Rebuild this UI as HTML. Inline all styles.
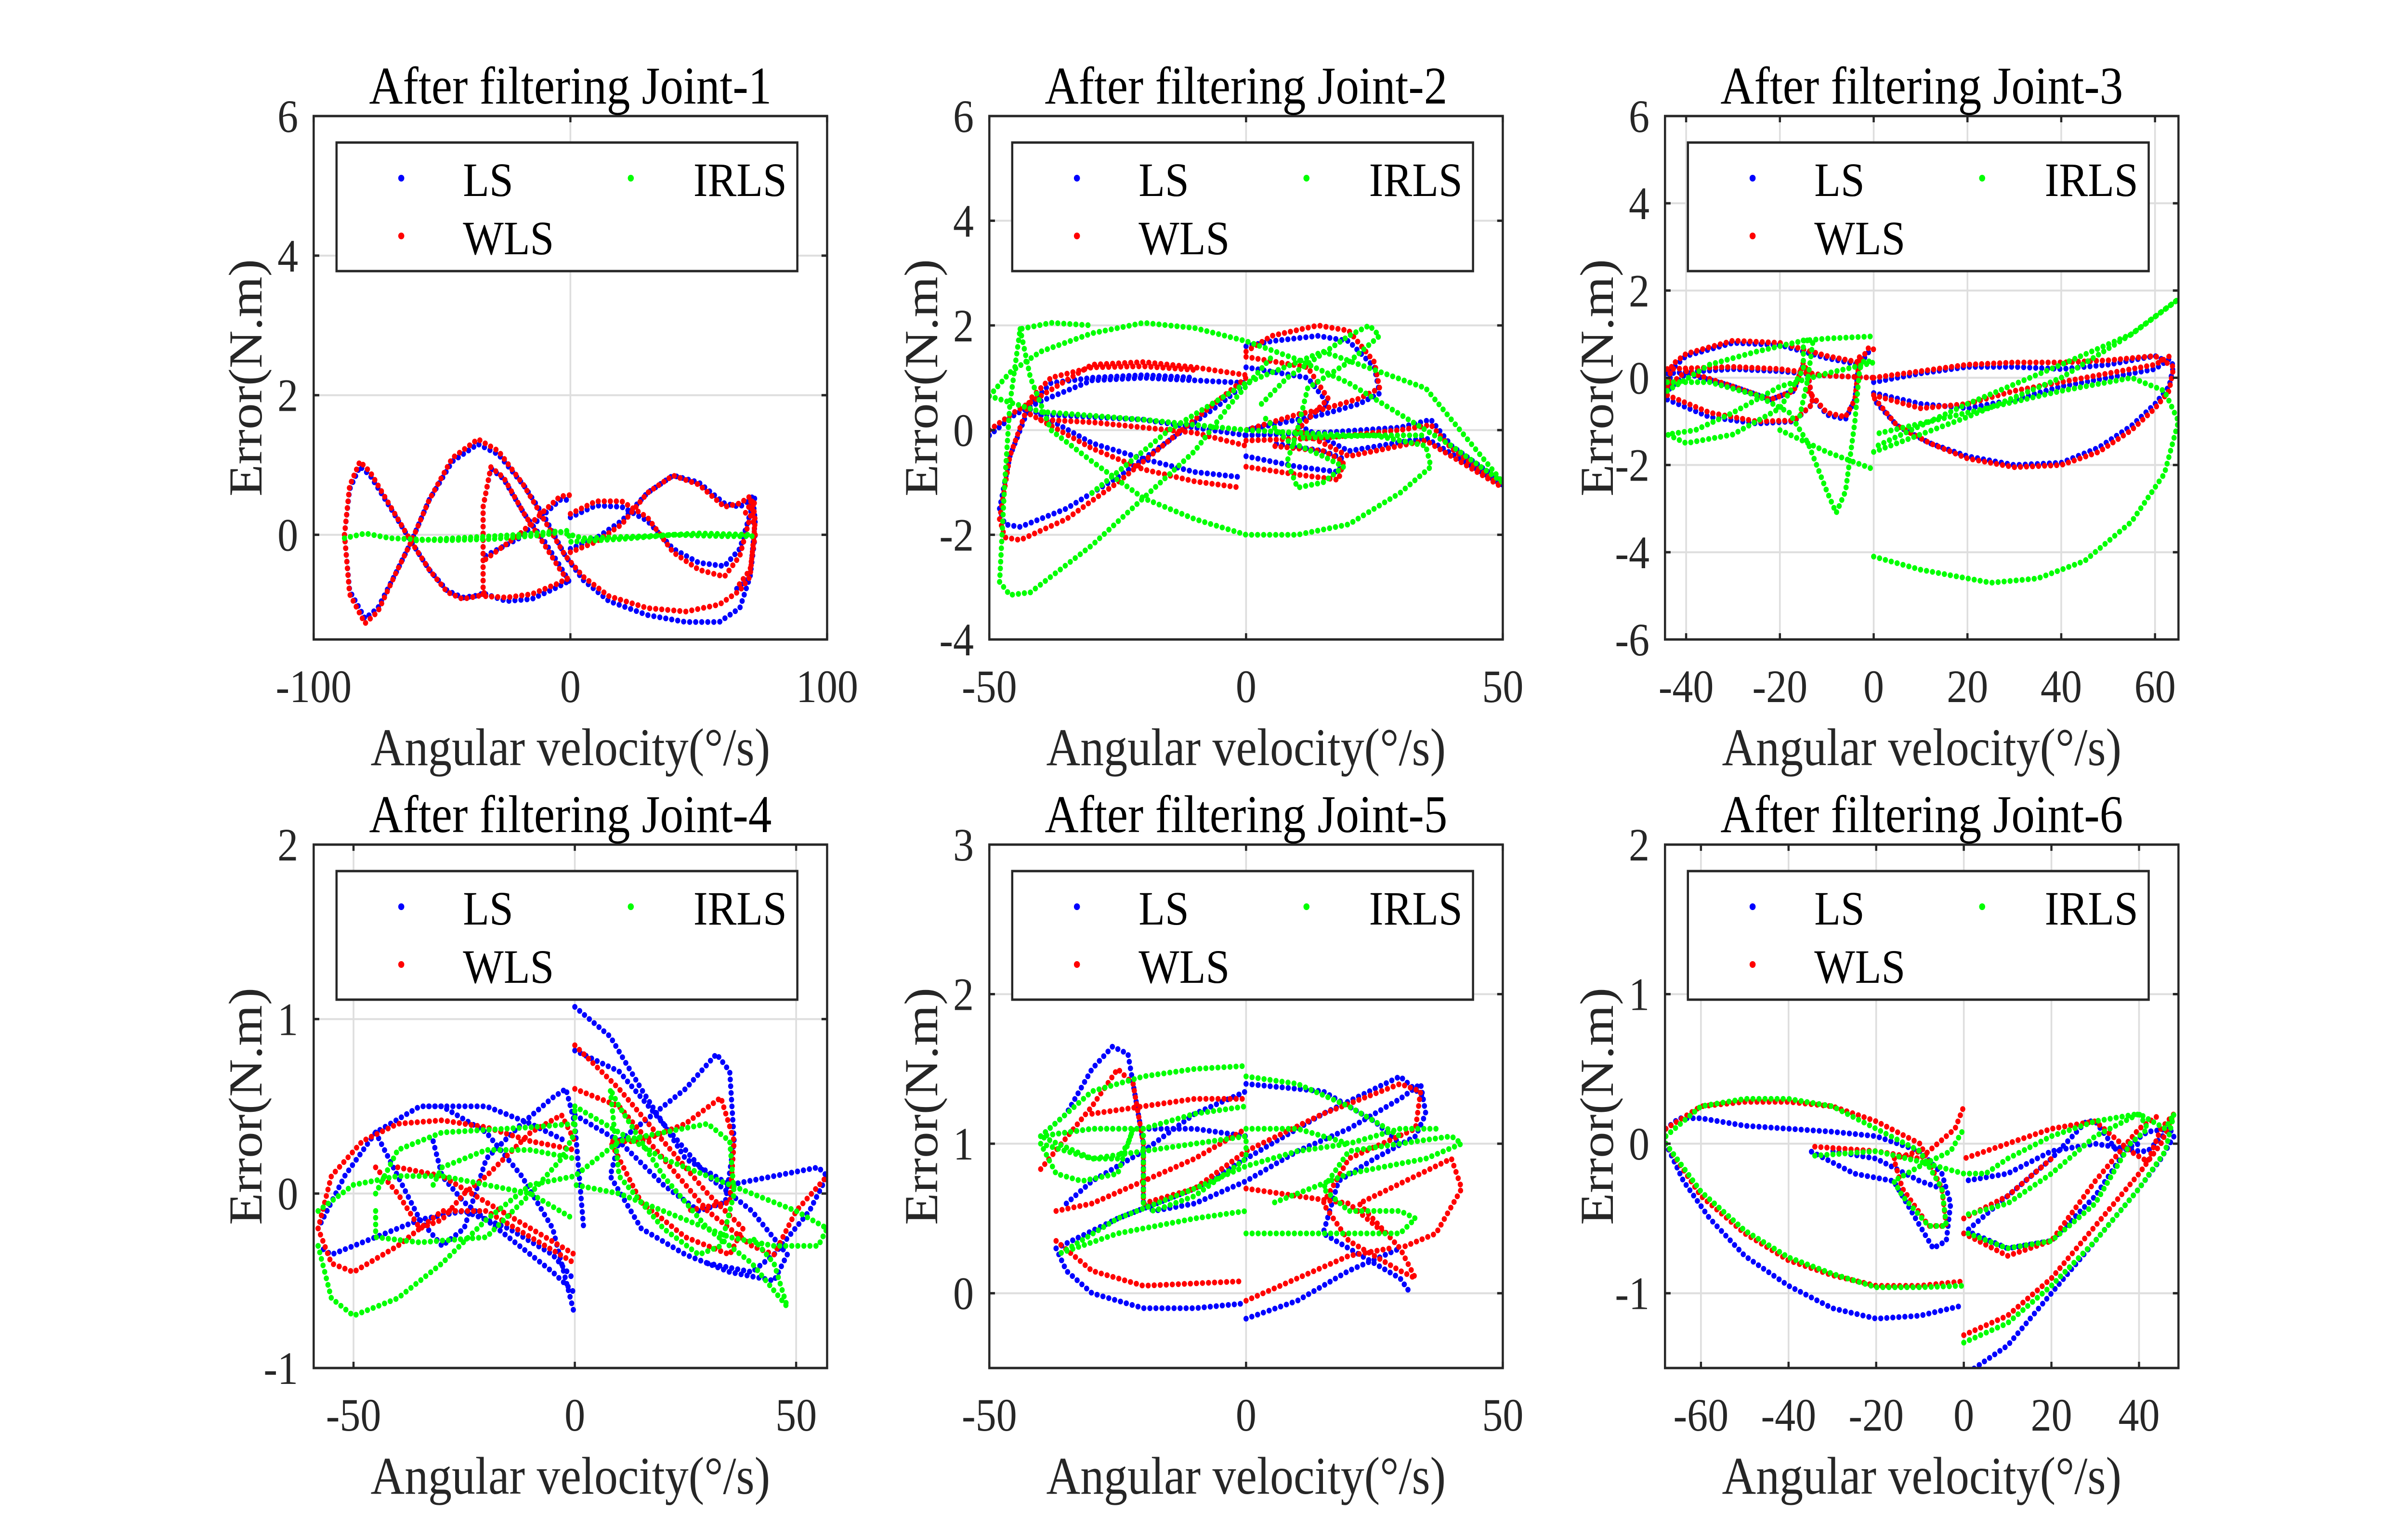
<!DOCTYPE html>
<html><head><meta charset="utf-8"><title>After filtering joints</title>
<style>html,body{margin:0;padding:0;background:#fff;width:100vw;height:100vh;overflow:hidden}svg{display:block;position:absolute;left:0;top:0;width:100vw;height:100vh}</style></head>
<body>
<svg id="fig" xmlns="http://www.w3.org/2000/svg" width="100%" height="100%" viewBox="0 0 5581 3194" preserveAspectRatio="none" font-family="'Liberation Serif', serif">
<rect x="0" y="0" width="5581" height="3194" fill="#fff"/>
</svg>
<script>
// ---------------- data ----------------
const titles = ["After filtering Joint-1","After filtering Joint-2","After filtering Joint-3","After filtering Joint-4","After filtering Joint-5","After filtering Joint-6"];
const xlims = [[-100,100],[-50,50],[-44.5,65],[-59,57],[-50,50],[-68.2,49]];
const ylims = [[-1.5,6],[-4,6],[-6,6],[-1,2],[-0.5,3],[-1.5,2]];
const xticks = [[-100,0,100],[-50,0,50],[-40,-20,0,20,40,60],[-50,0,50],[-50,0,50],[-60,-40,-20,0,20,40]];
const yticks = [[0,2,4,6],[-4,-2,0,2,4,6],[-6,-4,-2,0,2,4,6],[-1,0,1,2],[0,1,2,3],[-1,0,1,2]];
const legendNames = ["LS","WLS","IRLS"];

// Joint 1
const j1LS = [
 [[-88,0],[-86,0.65],[-82,0.98],[-78,0.85],[-70,0.38],[-62,-0.1],[-55,-0.5],[-48,-0.8],[-42,-0.9],[-36,-0.87],[-33,-0.82]],
 [[-88,0],[-86,-0.8],[-80,-1.2],[-75,-1.05],[-68,-0.55],[-62,-0.1],[-55,0.5],[-46,1.05],[-36,1.3],[-28,1.15],[-18,0.7],[-10,0.25],[-2,-0.3],[5,-0.65],[15,-0.95],[30,-1.15],[45,-1.25],[58,-1.25],[66,-1.05],[70,-0.6],[72,0.2],[71,0.55],[68,0.4]],
 [[-34,-0.85],[-34,0.4],[-31,0.95],[-26,0.8],[-18,0.3],[-10,-0.1],[-4,-0.45],[0,-0.7]],
 [[-33,-0.85],[-25,-0.95],[-15,-0.92],[-5,-0.75],[0,-0.65]],
 [[-33,-0.3],[-20,-0.05],[-10,0.3],[-4,0.5],[0,0.5]],
 [[0,0.25],[10,0.42],[20,0.4],[30,0.2],[40,-0.2],[50,-0.4],[60,-0.45],[66,-0.2],[70,0.3],[72,0.55]],
 [[0,-0.2],[10,-0.05],[20,0.2],[30,0.6],[40,0.85],[50,0.75],[60,0.45],[66,0.4],[70,0.5],[72,0],[70,-0.6],[64,-0.8]]
];
const j1WLS = [
 [[-88,0],[-86,0.7],[-82,1.05],[-78,0.9],[-70,0.4],[-62,-0.1],[-55,-0.5],[-48,-0.82],[-42,-0.92],[-36,-0.88],[-33,-0.82]],
 [[-88,0],[-86,-0.85],[-80,-1.27],[-75,-1.1],[-68,-0.55],[-62,-0.1],[-55,0.5],[-46,1.1],[-36,1.37],[-28,1.2],[-18,0.7],[-10,0.2],[-2,-0.3],[5,-0.6],[15,-0.88],[30,-1.05],[45,-1.1],[58,-1.0],[66,-0.8],[70,-0.6],[72,0.2],[71,0.5],[68,0.3]],
 [[-34,-0.85],[-34,0.4],[-31,0.97],[-26,0.82],[-18,0.3],[-10,-0.15],[-4,-0.5],[0,-0.7]],
 [[-33,-0.88],[-25,-0.9],[-15,-0.85],[-5,-0.7],[0,-0.6]],
 [[-33,-0.35],[-20,0],[-10,0.35],[-4,0.55],[0,0.57]],
 [[0,0.3],[10,0.48],[20,0.48],[30,0.25],[40,-0.25],[50,-0.5],[60,-0.6],[66,-0.3],[70,0.25],[72,0.5]],
 [[0,-0.25],[10,-0.1],[20,0.15],[30,0.6],[40,0.85],[50,0.72],[60,0.4],[66,0.45],[70,0.55],[72,0],[70,-0.5],[65,-0.75]]
];
const j1IRLS = [
 [[-88,-0.05],[-80,0.02],[-70,-0.05],[-50,-0.08],[-30,-0.06],[-10,0],[-1,0.06],[0,-0.1],[20,-0.06],[40,0],[60,-0.02],[72,-0.02]],
 [[-60,-0.08],[-40,-0.04],[-20,0],[-5,0.05],[5,-0.05],[30,-0.02],[50,0.02],[70,0]]
];

// Joint 2
const j2LS = [
 [[-50,-0.1],[-45,0.3],[-40,0.55],[-30,0.95],[-20,1.0],[-10,0.95],[0,0.9]],
 [[-48,-1.5],[-47,-1.8],[-44,-1.85],[-35,-1.5],[-25,-0.9],[-15,-0.2],[-5,0.5],[0,0.9]],
 [[-48,-1.5],[-46,-0.5],[-42,0.5],[-38,0.9],[-30,1.0],[-20,1.05],[-10,1.0]],
 [[-40,0.3],[-30,0.25],[-20,0.2],[-10,0.05],[0,-0.1]],
 [[-42,0.4],[-30,-0.25],[-20,-0.55],[-10,-0.8],[-1,-0.9]],
 [[0,1.6],[5,1.7],[14,1.8],[20,1.7],[25,1.2],[26,0.7],[22,0.5],[15,0.3],[10,0.2],[0,0]],
 [[0,-0.5],[10,-0.7],[18,-0.8],[19,-0.55],[15,-0.4],[5,-0.25]],
 [[0,-0.1],[15,-0.05],[30,0.05],[36,0.2],[40,-0.3],[50,-1.0]],
 [[0,1.2],[12,1.0],[16,0.5],[10,0.1],[20,-0.4],[35,-0.15],[50,-1.05]]
];
const j2WLS = [
 [[-50,0],[-45,0.35],[-40,0.65],[-30,1.25],[-20,1.3],[-10,1.2],[0,1.05]],
 [[-48,-1.7],[-47,-2.05],[-44,-2.1],[-35,-1.7],[-25,-1.0],[-15,-0.2],[-5,0.6],[0,1.0]],
 [[-48,-1.7],[-46,-0.5],[-42,0.6],[-38,1.0],[-30,1.2],[-20,1.22],[-10,1.15]],
 [[-40,0.2],[-30,0.15],[-20,0.05],[-10,-0.05],[0,-0.3]],
 [[-42,0.3],[-30,-0.35],[-20,-0.75],[-10,-0.98],[-1,-1.1]],
 [[0,1.5],[5,1.8],[14,2.0],[20,1.9],[25,1.3],[26,0.8],[22,0.6],[15,0.4],[10,0.3],[0,0]],
 [[0,-0.7],[10,-0.85],[18,-0.95],[19,-0.6],[15,-0.4],[5,-0.3]],
 [[0,-0.2],[15,-0.15],[30,0],[36,0.1],[40,-0.35],[50,-1.1]],
 [[0,1.4],[12,1.2],[16,0.6],[10,0],[20,-0.5],[35,-0.2],[50,-1.1]]
];
const j2IRLS = [
 [[-50,0.65],[-46,1.1],[-40,1.5],[-30,1.85],[-20,2.05],[-10,1.95],[0,1.7],[10,1.35],[20,0.9],[30,0.3],[40,-0.3],[50,-1.0]],
 [[-44,1.93],[-42,1.0],[-38,0],[-30,-0.6],[-20,-1.3],[-10,-1.7],[0,-2.0],[10,-2.0],[20,-1.8],[30,-1.2],[36,-0.7],[35,-0.3],[25,-0.1],[10,-0.15]],
 [[-48,-2.9],[-46,-3.15],[-42,-3.1],[-30,-2.2],[-20,-1.3],[-10,-0.4],[-3,0.5],[5,1.4]],
 [[-48,-2.9],[-47,-1.0],[-46,0.5],[-44,1.93],[-38,2.05],[-30,2.0]],
 [[3,0.5],[8,1.0],[14,1.4],[20,1.8],[24,2.0],[26,1.8],[20,1.3],[12,0.8],[10,0],[8,-0.6],[10,-1.1],[15,-1.0],[19,-0.7],[15,-0.5],[8,-0.2],[3,0.3]],
 [[-50,0.65],[-40,0.35],[-20,0.2],[0,0],[20,-0.1],[35,-0.1]],
 [[-30,-1.2],[-15,0],[0,0.9],[15,1.5],[35,0.8],[50,-1.0]]
];

// Joint 3
const j3LS = [
 [[-44,-0.3],[-43,0.2],[-40,0.5],[-30,0.8],[-20,0.75],[-10,0.45],[-3,0.3],[-1,0.6],[0,0.6]],
 [[-44,-0.5],[-35,-0.9],[-25,-1.05],[-17,-1.0],[-13,-0.6],[-14,0.1],[-15,0.3],[-17,-0.3],[-22,-0.5],[-30,-0.2],[-40,0.1],[-44,-0.3]],
 [[-14,-0.3],[-10,-0.85],[-6,-0.95],[-4,-0.5],[-3,0.5]],
 [[0,-0.1],[10,0.1],[20,0.25],[30,0.25],[40,0.2],[50,0.3],[60,0.5],[64,0.3],[63,-0.2],[60,-0.6],[55,-1.1],[48,-1.6],[40,-1.95],[30,-2.0],[20,-1.8],[12,-1.5],[5,-1.1],[0,-0.5]],
 [[0,-0.35],[10,-0.6],[20,-0.7],[30,-0.5],[40,-0.2],[50,0],[60,0.2],[64,0.5]],
 [[-44,0.1],[-30,0.2],[-20,0.15],[-10,0.05],[0,0]]
];
const j3WLS = [
 [[-44,-0.2],[-43,0.3],[-40,0.55],[-30,0.85],[-20,0.8],[-10,0.5],[-3,0.35],[-1,0.7],[0,0.65]],
 [[-44,-0.4],[-35,-0.8],[-25,-1.0],[-17,-0.98],[-13,-0.6],[-14,0.1],[-15,0.35],[-17,-0.3],[-22,-0.5],[-30,-0.2],[-40,0.15],[-44,-0.2]],
 [[-14,-0.3],[-10,-0.8],[-6,-0.9],[-4,-0.5],[-3,0.5]],
 [[0,0],[10,0.15],[20,0.3],[30,0.35],[40,0.35],[50,0.4],[60,0.5],[64,0.25],[63,-0.3],[60,-0.7],[55,-1.2],[48,-1.7],[40,-2.0],[30,-2.05],[20,-1.85],[12,-1.5],[5,-1.1],[0,-0.45]],
 [[0,-0.4],[10,-0.7],[20,-0.6],[30,-0.3],[40,-0.1],[50,0.1],[60,0.3],[64,0.55]],
 [[-44,0.2],[-30,0.25],[-20,0.2],[-10,0.05],[0,0]]
];
const j3IRLS = [
 [[-44,-0.3],[-35,0.3],[-25,0.6],[-15,0.85],[-10,0.9],[0,0.95]],
 [[-44,-0.1],[-35,-0.1],[-25,-0.4],[-18,-0.8],[-14,-1.5],[-10,-2.6],[-8,-3.1],[-6,-2.6],[-4,-1.0],[-3,0.2],[-2,0.4],[0,0.35],[-10,0.1],[-20,-0.2],[-30,-0.8],[-38,-1.2],[-44,-1.3],[-40,-1.5],[-30,-1.3],[-20,-0.7],[-15,0.2],[-15,0.9],[-13,0.8],[-14,0],[-16,-1.0]],
 [[-20,-1.2],[-10,-1.7],[0,-2.1]],
 [[0,-1.7],[20,-0.9],[40,0],[55,1.0],[65,1.8],[55,1.0],[40,0.3],[20,-0.6],[0,-1.6]],
 [[0,-4.1],[10,-4.4],[25,-4.7],[35,-4.6],[45,-4.2],[55,-3.3],[62,-2.2],[65,-1.0],[62,-0.3],[55,0],[40,-0.3],[20,-0.8],[0,-1.3]]
];

// Joint 4
const j4LS = [
 [[0,1.07],[8,0.9],[15,0.6],[20,0.4],[25,0.2],[35,0.05],[45,0.1],[55,0.15],[57,0.1],[53,-0.1],[45,-0.35],[40,-0.45],[30,-0.4]],
 [[0,0.82],[10,0.7],[20,0.4],[30,0.1],[40,-0.1],[48,-0.35],[45,-0.5],[35,-0.45],[25,-0.35],[15,-0.2],[8,0.1],[10,0.3],[15,0.4],[25,0.6],[32,0.8],[35,0.7],[36,0.3],[34,-0.05],[28,-0.1],[20,0.05],[10,0.3],[0,0.45]],
 [[-58,-0.3],[-55,-0.35],[-45,-0.25],[-35,-0.15],[-25,-0.1],[-15,-0.2],[-5,-0.35],[0,-0.5]],
 [[-58,-0.2],[-52,0.1],[-45,0.35],[-35,0.5],[-30,0.5],[-20,0.35],[-12,0.1],[-5,-0.2],[0,-0.7]],
 [[-45,0.35],[-40,0.1],[-35,-0.15],[-30,-0.3],[-25,-0.2],[-20,0.2],[-12,0.4],[-5,0.55],[-2,0.6],[0,0.4],[2,-0.2]],
 [[-33,0.5],[-20,0.5],[-10,0.4],[-2,0.3]],
 [[-32,0.3],[-30,0.1],[-25,-0.05],[-15,-0.25],[-5,-0.45],[0,-0.57]]
];
const j4WLS = [
 [[0,0.85],[10,0.6],[20,0.3],[30,0],[38,-0.2],[35,-0.35],[25,-0.25],[15,-0.05],[8,0.3],[15,0.3],[25,0.4],[33,0.55],[36,0.3],[35,-0.05],[25,-0.1]],
 [[0,0.6],[10,0.5],[20,0.2],[30,-0.1],[40,-0.3],[45,-0.35],[50,-0.1],[57,0.1]],
 [[-58,-0.2],[-55,-0.4],[-50,-0.45],[-40,-0.3],[-30,-0.1],[-20,-0.1],[-10,-0.25],[0,-0.4]],
 [[-58,-0.2],[-55,0.1],[-48,0.3],[-40,0.4],[-30,0.42],[-20,0.38],[-10,0.3],[0,0.25]],
 [[-45,0.15],[-40,0],[-35,-0.2],[-30,-0.15],[-25,0],[-20,0.1],[-10,0.35],[-3,0.45],[0,0.3]],
 [[-40,0.15],[-30,0.1],[-20,-0.05],[-10,-0.2],[0,-0.35]]
];
const j4IRLS = [
 [[-58,-0.3],[-55,-0.6],[-50,-0.7],[-40,-0.6],[-30,-0.4],[-20,-0.15],[-10,0.05],[0,0.1],[10,0.3],[20,0.35],[30,0.4],[35,0.3],[36,0],[33,-0.3],[28,-0.35],[20,-0.2],[10,0.1],[8,0.6],[10,0.5],[20,0.1],[30,-0.2],[40,-0.4],[48,-0.65],[45,-0.4],[40,-0.25]],
 [[-58,-0.1],[-50,0.05],[-40,0.1],[-30,0.1],[-20,0.05],[-10,0],[0,-0.15]],
 [[-45,-0.1],[-45,-0.25],[-35,-0.28],[-20,-0.25],[-10,0],[-3,0.2],[0,0.35],[0,0.5]],
 [[-45,0],[-40,0.25],[-30,0.35],[-10,0.38],[0,0.4]],
 [[-32,0.05],[-30,0.15],[-20,0.25],[-10,0.25],[0,0.2]],
 [[0,0.5],[10,0.35],[20,0.2],[30,0.1],[40,0],[50,-0.1],[57,-0.2],[55,-0.3],[45,-0.3],[35,-0.25],[20,-0.1],[10,0],[0,0.05]]
];

// Joint 5
const j5LS = [
 [[-40,1.05],[-35,1.2],[-30,1.5],[-26,1.65],[-23,1.6],[-20,1.0],[-20,0.6],[-18,0.55],[-10,0.6],[0,0.75],[10,0.95],[20,1.1],[30,1.3],[34,1.4],[35,1.2],[33,1.05],[25,0.9],[18,0.75],[15,0.4],[20,0.3],[30,0.1],[32,0]],
 [[-40,1.05],[-30,1.1],[-20,1.1],[-10,1.1],[0,1.05]],
 [[-37,0.3],[-35,0.15],[-30,0],[-20,-0.1],[-10,-0.1],[-1,-0.07]],
 [[0,-0.17],[10,-0.05],[20,0.15],[30,0.3]],
 [[-37,0.3],[-25,0.5],[-10,0.7],[0,0.9],[15,1.2],[30,1.45],[35,1.3]],
 [[-35,0.6],[-30,0.75],[-20,0.95],[-10,1.2],[0,1.35]],
 [[0,1.4],[15,1.35],[25,1.15],[30,1.0]]
];
const j5WLS = [
 [[-40,0.83],[-30,1.25],[-25,1.5],[-22,1.4],[-20,1.0],[-20,0.6],[-10,0.7],[0,0.95],[15,1.2],[30,1.4],[34,1.35],[33,1.1],[20,0.9],[15,0.6],[20,0.35],[30,0.15],[33,0.1],[30,0.3],[22,0.6],[40,0.9],[42,0.7],[37,0.4],[30,0.3]],
 [[-37,0.55],[-30,0.6],[-20,0.75],[-10,0.9],[0,1.1]],
 [[-37,0.35],[-30,0.15],[-20,0.05],[-1,0.08]],
 [[0,-0.05],[10,0.1],[20,0.25],[28,0.3]],
 [[-30,1.2],[-20,1.25],[-10,1.3],[0,1.3]],
 [[0,0.7],[10,0.65],[20,0.6],[27,0.4]]
];
const j5IRLS = [
 [[-40,1.05],[-35,1.2],[-30,1.35],[-20,1.45],[-10,1.5],[0,1.52]],
 [[-40,1.0],[-30,0.9],[-25,0.9],[-23,1.0],[-22,1.1],[-25,0.8],[-32,0.75],[-37,0.8],[-40,1.0]],
 [[-40,1.05],[-30,1.1],[-20,1.1],[-10,1.2],[0,1.25]],
 [[0,1.1],[10,1.1],[20,1.0],[30,1.1],[37,1.1]],
 [[-20,1.1],[-20,0.6],[-18,0.55],[-10,0.65],[0,0.9],[0,1.05],[-10,1.0],[-20,0.95],[-30,0.9],[-40,1.05]],
 [[-36,0.27],[-25,0.4],[-10,0.5],[0,0.55]],
 [[0,0.4],[10,0.4],[20,0.4],[30,0.4],[33,0.5],[30,0.55],[20,0.55],[15,0.7],[20,0.95],[30,1.0],[40,1.05],[42,1.0],[35,0.9],[20,0.8],[5,0.6]],
 [[0,1.45],[10,1.4],[20,1.25],[30,1.05]],
 [[-36,0.27],[-25,0.5],[-10,0.7],[0,0.85],[10,0.95],[20,1.0]]
];

// Joint 6
const j6LS = [
 [[-68,0.1],[-65,0.17],[-60,0.17],[-50,0.12],[-40,0.1],[-30,0.08],[-20,0.05],[-10,-0.05],[-5,-0.2],[-3,-0.4],[-4,-0.65],[-7,-0.7],[-12,-0.45],[-16,-0.25],[-25,-0.2],[-35,-0.05]],
 [[-68,0],[-64,-0.25],[-58,-0.5],[-50,-0.75],[-40,-0.95],[-30,-1.1],[-20,-1.17],[-10,-1.15],[0,-1.08]],
 [[0,-1.55],[10,-1.35],[20,-1.0],[30,-0.65],[40,-0.3],[45,-0.1],[48,0.05],[47,0.1],[42,-0.05],[40,-0.05],[30,0],[20,-0.05],[10,-0.2],[0,-0.25]],
 [[0,-0.6],[10,-0.35],[20,-0.1],[28,0.15],[30,0.15],[35,-0.05],[40,0]],
 [[2,-0.6],[10,-0.7],[20,-0.65],[30,-0.35],[38,0],[42,0.08],[47,0.1]],
 [[-5,-0.3],[-10,-0.25],[-20,-0.1],[-30,-0.05]]
];
const j6WLS = [
 [[-68,0.1],[-60,0.25],[-50,0.28],[-40,0.28],[-30,0.25],[-20,0.15],[-10,0],[-5,-0.3],[-4,-0.55],[-8,-0.55],[-14,-0.3],[-16,-0.1],[-10,-0.05]],
 [[-68,0],[-60,-0.35],[-50,-0.6],[-40,-0.78],[-30,-0.88],[-20,-0.95],[-10,-0.95],[0,-0.92]],
 [[0,-1.28],[10,-1.15],[20,-0.9],[30,-0.55],[40,-0.2],[45,0],[48,0.2],[45,0.1],[42,-0.12],[38,-0.05],[30,0.15],[20,0.1],[10,0],[0,-0.1]],
 [[0,-0.6],[10,-0.75],[20,-0.65],[30,-0.25],[40,0.1],[45,0.2]],
 [[0,-0.5],[10,-0.35],[20,-0.1]],
 [[-34,-0.02],[-20,-0.05],[-10,-0.1],[-2,0.1],[0,0.25]]
];
const j6IRLS = [
 [[-68,0.05],[-60,0.25],[-50,0.3],[-40,0.3],[-30,0.25],[-20,0.1],[-10,-0.05],[-5,-0.3],[-4,-0.55],[-8,-0.55],[-14,-0.35],[-16,-0.25],[-10,-0.15],[-3,-0.05],[0,0.1]],
 [[-68,0],[-60,-0.32],[-50,-0.58],[-40,-0.76],[-30,-0.87],[-20,-0.96],[-10,-0.96],[0,-0.95]],
 [[0,-1.33],[10,-1.2],[20,-0.95],[30,-0.65],[40,-0.3],[46,-0.05],[48,0.2],[46,0.1],[40,0.2],[30,0.05],[20,-0.2],[10,-0.4],[0,-0.48]],
 [[1,-0.6],[10,-0.7],[20,-0.65],[30,-0.4],[38,0],[42,0.1]],
 [[-34,-0.08],[-20,-0.05],[-10,-0.12],[0,-0.2],[5,-0.2],[10,-0.1],[20,0.05],[30,0.15],[40,0.2],[42,0.1]]
];

const seriesData = [[j1LS,j1WLS,j1IRLS],[j2LS,j2WLS,j2IRLS],[j3LS,j3WLS,j3IRLS],[j4LS,j4WLS,j4IRLS],[j5LS,j5WLS,j5IRLS],[j6LS,j6WLS,j6IRLS]];

// ---------------- drawing ----------------
const NS = "http://www.w3.org/2000/svg";
const svg = document.getElementById("fig");
const colors = ["#0000ff","#ff0000","#00ff00"];
const colLeft = [727, 2293, 3859];
const rowTop = [241, 1754];
const AW = 1190, AH = 1087;

function mk(tag, attrs, parent) {
  const e = document.createElementNS(NS, tag);
  for (const k in attrs) e.setAttribute(k, attrs[k]);
  (parent || svg).appendChild(e);
  return e;
}

for (let p = 0; p < 6; p++) {
  const L = colLeft[p % 3], T = rowTop[Math.floor(p / 3)];
  const [x0, x1] = xlims[p], [y0, y1] = ylims[p];
  const sx = v => L + (v - x0) / (x1 - x0) * AW;
  const sy = v => T + AH - (v - y0) / (y1 - y0) * AH;

  const g = mk("g", {});
  
  

  const clip = mk("clipPath", {id: "clip" + p}, g);
  mk("rect", {x: L, y: T, width: AW, height: AH}, clip);

  const grid = mk("g", {stroke: "#dedede", "stroke-width": 4}, g);
  
  
  xticks[p].forEach(v => mk("line", {x1: sx(v), x2: sx(v), y1: T, y2: T + AH}, grid));
  yticks[p].forEach(v => mk("line", {x1: L, x2: L + AW, y1: sy(v), y2: sy(v)}, grid));

  const plot = mk("g", {"clip-path": "url(#clip" + p + ")"}, g);
  seriesData[p].forEach((segs, si) => {
    const sg = mk("g", {stroke: colors[si], fill: "none", "stroke-width": 12, "stroke-linecap": "round", "stroke-linejoin": "round", "stroke-dasharray": "0 14"}, plot);
    
    
    segs.forEach(seg => {
      const pts = seg.map(q => sx(q[0]).toFixed(1) + "," + sy(q[1]).toFixed(1)).join(" ");
      const pl = mk("polyline", {points: pts}, sg);
      
      
    });
  });

  const tk = mk("g", {stroke: "#262626", "stroke-width": 5}, g);
  xticks[p].forEach(v => {
    mk("line", {x1: sx(v), x2: sx(v), y1: T + AH, y2: T + AH - 13}, tk);
    mk("line", {x1: sx(v), x2: sx(v), y1: T, y2: T + 13}, tk);
    const t = mk("text", {x: sx(v), y: T + AH + 130, "font-size": 96, fill: "#262626", "text-anchor": "middle"}, g);
    t.textContent = String(v);
    
    
  });
  yticks[p].forEach(v => {
    mk("line", {x1: L, x2: L + 13, y1: sy(v), y2: sy(v)}, tk);
    mk("line", {x1: L + AW, x2: L + AW - 13, y1: sy(v), y2: sy(v)}, tk);
    const t = mk("text", {x: L - 36, y: sy(v) + 33, "font-size": 96, fill: "#262626", "text-anchor": "end"}, g);
    t.textContent = String(v);
    
    
  });

  const box = mk("rect", {x: L, y: T, width: AW, height: AH, fill: "none", stroke: "#262626", "stroke-width": 5}, g);
  
  

  const ti = mk("text", {x: L + AW / 2, y: T - 26, "font-size": 110, fill: "#000", "text-anchor": "middle", textLength: 933, lengthAdjust: "spacingAndGlyphs"}, g);
  ti.textContent = titles[p];
  
  

  const xl = mk("text", {x: L + AW / 2, y: T + AH + 261, "font-size": 110, fill: "#262626", "text-anchor": "middle", textLength: 926, lengthAdjust: "spacingAndGlyphs"}, g);
  xl.textContent = "Angular velocity(°/s)";
  
  

  const yx = L - 121, yy = T + AH / 2;
  const yl = mk("text", {x: yx, y: yy, "font-size": 110, fill: "#262626", "text-anchor": "middle", transform: "rotate(-90 " + yx + " " + yy + ")", textLength: 493, lengthAdjust: "spacingAndGlyphs"}, g);
  yl.textContent = "Error(N.m)";
  
  

  const lg = mk("g", {}, g);
  
  
  mk("rect", {x: L + 53, y: T + 55, width: 1068, height: 267, fill: "#fff", stroke: "#262626", "stroke-width": 5}, lg);
  const lpos = [[203, 129, 346, 166], [203, 249, 346, 287], [735, 129, 880, 166]];
  legendNames.forEach((n, i) => {
    const [dx, dy, tx, ty] = lpos[i];
    const dot = mk("circle", {cx: L + dx, cy: T + dy, r: 7, fill: colors[i]}, lg);
    
    
    const t = mk("text", {x: L + tx, y: T + ty, "font-size": 100, fill: "#000"}, lg);
    t.textContent = n;
    
    
  });
}
</script>
</body></html>
